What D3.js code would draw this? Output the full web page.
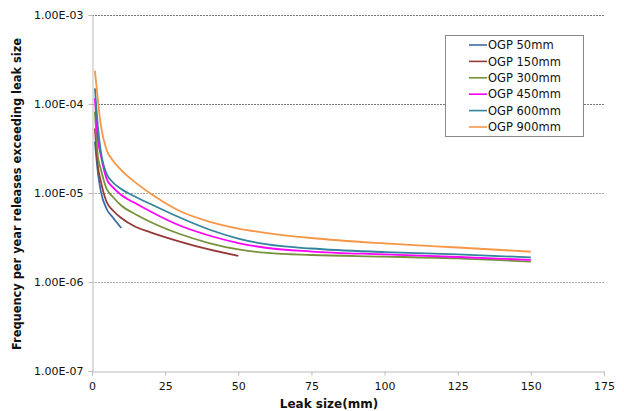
<!DOCTYPE html>
<html>
<head>
<meta charset="utf-8">
<script src="https://cdn.jsdelivr.net/npm/d3@7"></script>
<style>
  body { margin: 0; background: #fff; }
  text { font-family: "DejaVu Sans", Verdana, sans-serif; fill: #111; }
</style>
</head>
<body>
<div id="chart"></div>
<script>
const xLong = [1, 2, 3, 5, 7, 10, 15, 20, 30, 40, 50, 60, 75, 100, 125, 150];
const x150 = [1, 2, 3, 5, 7, 10, 15, 20, 30, 40, 50];
const x50 = [1, 2, 3, 5, 7, 10];

const ogp50 = [3.77e-5, 1.72e-5, 1.05e-5, 6.61e-6, 5.37e-6, 4.04e-6];
const ogp150 = [5.33e-5, 2.01e-5, 1.36e-5, 7.92e-6, 6.44e-6, 5.24e-6, 4.15e-6, 3.62e-6, 2.85e-6, 2.32e-6, 1.96e-6];
const ogp300 = [8.19e-5, 2.60e-5, 1.86e-5, 1.11e-5, 9.14e-6, 7.24e-6, 5.73e-6, 4.72e-6, 3.46e-6, 2.74e-6, 2.32e-6, 2.12e-6, 2.01e-6, 1.93e-6, 1.84e-6, 1.69e-6];
const ogp450 = [1.16e-4, 4.04e-5, 2.67e-5, 1.44e-5, 1.17e-5, 9.50e-6, 7.62e-6, 6.20e-6, 4.31e-6, 3.33e-6, 2.74e-6, 2.41e-6, 2.20e-6, 2.04e-6, 1.91e-6, 1.77e-6];
const ogp600 = [1.50e-4, 5.66e-5, 2.96e-5, 1.64e-5, 1.33e-5, 1.11e-5, 9.02e-6, 7.52e-6, 5.30e-6, 3.89e-6, 3.08e-6, 2.64e-6, 2.38e-6, 2.17e-6, 2.04e-6, 1.89e-6];
const ogp900 = [2.37e-4, 1.11e-4, 5.81e-5, 3.04e-5, 2.35e-5, 1.81e-5, 1.30e-5, 9.87e-6, 6.28e-6, 4.78e-6, 3.99e-6, 3.55e-6, 3.12e-6, 2.71e-6, 2.44e-6, 2.19e-6];

const seriesNames = ["OGP 50mm", "OGP 150mm", "OGP 300mm", "OGP 450mm", "OGP 600mm", "OGP 900mm"];
const colors = ["#3F6AA8", "#943A38", "#76923C", "#FF00FF", "#31849B", "#F79646"];

const xTicks = [0, 25, 50, 75, 100, 125, 150, 175];
const yTicks = [1e-7, 1e-6, 1e-5, 1e-4, 1e-3];

const series = [
  {name: seriesNames[0], xs: x50, ys: ogp50},
  {name: seriesNames[1], xs: x150, ys: ogp150},
  {name: seriesNames[2], xs: xLong, ys: ogp300},
  {name: seriesNames[3], xs: xLong, ys: ogp450},
  {name: seriesNames[4], xs: xLong, ys: ogp600},
  {name: seriesNames[5], xs: xLong, ys: ogp900}
].map((s, i) => ({name: s.name, color: colors[i], pts: s.xs.map((x, j) => ({x: x, y: s.ys[j]}))}));

const W = 624, H = 411;
const x = d3.scaleLinear().domain([0, 175]).range([92, 604]);
const y = d3.scaleLog().domain([1e-7, 1e-3]).range([371, 15]);

const svg = d3.select("#chart").append("svg")
    .attr("width", W)
    .attr("height", H);

// gridlines
svg.selectAll(".grid")
    .data(yTicks.slice(1))
    .enter().append("line")
    .attr("class", "grid")
    .attr("x1", x(0))
    .attr("x2", x(175))
    .attr("y1", d => Math.round(y(d)) + 0.5)
    .attr("y2", d => Math.round(y(d)) + 0.5)
    .attr("stroke", d => d >= 1e-4 ? "#777" : "#aaa")
    .attr("stroke-dasharray", "2,1");

// y axis
const yAxis = d3.axisLeft(y)
    .tickValues(yTicks)
    .tickSize(4)
    .tickPadding(5)
    .tickFormat(d => "1.00E-0" + Math.round(-Math.log10(d)));
const gy = svg.append("g")
    .attr("transform", `translate(${x(0) + 0.5},0)`)
    .call(yAxis);
gy.select(".domain").attr("stroke", "#bbb");
gy.selectAll(".tick line").attr("stroke", "#bbb");
gy.selectAll(".tick text").attr("font-size", "11px").attr("fill", "#111");

// x axis
const xAxis = d3.axisBottom(x)
    .tickValues(xTicks)
    .tickSize(4)
    .tickPadding(7)
    .tickFormat(d3.format("d"));
const gx = svg.append("g")
    .attr("transform", `translate(0,${Math.round(y(1e-7)) + 0.5})`)
    .call(xAxis);
gx.select(".domain").attr("stroke", "#bbb");
gx.selectAll(".tick line").attr("stroke", "#bbb");
gx.selectAll(".tick text").attr("font-size", "11px").attr("fill", "#111");

// series
const line = d3.line()
    .x(d => x(d.x))
    .y(d => y(d.y))
    .curve(d3.curveMonotoneX);

svg.selectAll(".series")
    .data(series)
    .enter().append("path")
    .attr("class", "series")
    .attr("d", d => line(d.pts))
    .attr("fill", "none")
    .attr("stroke", d => d.color)
    .attr("stroke-width", 1.8);

// axis titles
svg.append("text")
    .attr("x", 329)
    .attr("y", 408)
    .attr("text-anchor", "middle")
    .attr("font-size", "12px")
    .attr("font-weight", "bold")
    .text("Leak size(mm)");

svg.append("text")
    .attr("transform", "translate(21,194) rotate(-90)")
    .attr("text-anchor", "middle")
    .attr("font-size", "12px")
    .attr("font-weight", "bold")
    .attr("textLength", 312)
    .attr("lengthAdjust", "spacingAndGlyphs")
    .text("Frequency per year releases exceeding leak size");

// legend
const legend = svg.append("g").attr("transform", "translate(445,35)");
legend.append("rect")
    .attr("x", 0.5)
    .attr("y", 0.5)
    .attr("width", 138)
    .attr("height", 101)
    .attr("fill", "#fff")
    .attr("stroke", "#888");

const item = legend.selectAll(".item")
    .data(series)
    .enter().append("g")
    .attr("class", "item")
    .attr("transform", (d, i) => `translate(0,${10 + i * 16.4})`);
item.append("line")
    .attr("x1", 24)
    .attr("x2", 42)
    .attr("stroke", d => d.color)
    .attr("stroke-width", 1.6);
item.append("text")
    .attr("x", 43)
    .attr("dy", "0.36em")
    .attr("font-size", "11.5px")
    .text(d => d.name);
</script>
</body>
</html>
